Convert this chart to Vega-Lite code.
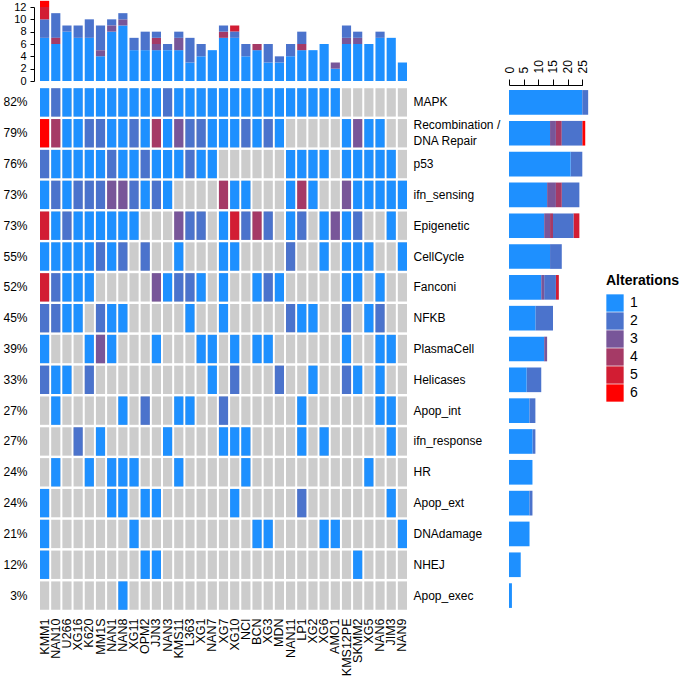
{
"$schema": "https://vega.github.io/schema/vega-lite/v6.json",
"padding": {"left": 2, "top": 0, "right": 0, "bottom": 0},
"datasets": {
"ord": [{"v":1,"rank":1},{"v":3,"rank":2},{"v":4,"rank":3},{"v":2,"rank":4},{"v":5,"rank":5},{"v":6,"rank":6}],
"cells": [
{"c":"KMM1","p":"MAPK","v":1},{"c":"NAN10","p":"MAPK","v":2},{"c":"U266","p":"MAPK","v":1},{"c":"XG16","p":"MAPK","v":1},{"c":"K620","p":"MAPK","v":1},{"c":"MM1S","p":"MAPK","v":1},{"c":"NAN1","p":"MAPK","v":1},{"c":"NAN8","p":"MAPK","v":1},{"c":"XG11","p":"MAPK","v":1},{"c":"OPM2","p":"MAPK","v":1},{"c":"JJN3","p":"MAPK","v":1},{"c":"NAN3","p":"MAPK","v":2},{"c":"KMS11","p":"MAPK","v":1},{"c":"L363","p":"MAPK","v":1},{"c":"XG1","p":"MAPK","v":1},{"c":"NAN7","p":"MAPK","v":1},{"c":"XG7","p":"MAPK","v":1},{"c":"XG10","p":"MAPK","v":1},{"c":"NCI","p":"MAPK","v":1},{"c":"BCN","p":"MAPK","v":1},{"c":"XG3","p":"MAPK","v":1},{"c":"MDN","p":"MAPK","v":1},{"c":"NAN11","p":"MAPK","v":1},{"c":"LP1","p":"MAPK","v":1},{"c":"XG2","p":"MAPK","v":1},{"c":"XG6","p":"MAPK","v":1},{"c":"AMO1","p":"MAPK","v":1},{"c":"KMS12PE","p":"MAPK","v":0},{"c":"SKMM2","p":"MAPK","v":0},{"c":"XG5","p":"MAPK","v":0},{"c":"NAN6","p":"MAPK","v":0},{"c":"JIM3","p":"MAPK","v":0},{"c":"NAN9","p":"MAPK","v":0},
{"c":"KMM1","p":"Recombination / DNA Repair","v":6},{"c":"NAN10","p":"Recombination / DNA Repair","v":4},{"c":"U266","p":"Recombination / DNA Repair","v":1},{"c":"XG16","p":"Recombination / DNA Repair","v":1},{"c":"K620","p":"Recombination / DNA Repair","v":2},{"c":"MM1S","p":"Recombination / DNA Repair","v":2},{"c":"NAN1","p":"Recombination / DNA Repair","v":1},{"c":"NAN8","p":"Recombination / DNA Repair","v":1},{"c":"XG11","p":"Recombination / DNA Repair","v":2},{"c":"OPM2","p":"Recombination / DNA Repair","v":1},{"c":"JJN3","p":"Recombination / DNA Repair","v":4},{"c":"NAN3","p":"Recombination / DNA Repair","v":1},{"c":"KMS11","p":"Recombination / DNA Repair","v":3},{"c":"L363","p":"Recombination / DNA Repair","v":2},{"c":"XG1","p":"Recombination / DNA Repair","v":2},{"c":"NAN7","p":"Recombination / DNA Repair","v":1},{"c":"XG7","p":"Recombination / DNA Repair","v":1},{"c":"XG10","p":"Recombination / DNA Repair","v":1},{"c":"NCI","p":"Recombination / DNA Repair","v":2},{"c":"BCN","p":"Recombination / DNA Repair","v":1},{"c":"XG3","p":"Recombination / DNA Repair","v":2},{"c":"MDN","p":"Recombination / DNA Repair","v":1},{"c":"NAN11","p":"Recombination / DNA Repair","v":0},{"c":"LP1","p":"Recombination / DNA Repair","v":0},{"c":"XG2","p":"Recombination / DNA Repair","v":0},{"c":"XG6","p":"Recombination / DNA Repair","v":0},{"c":"AMO1","p":"Recombination / DNA Repair","v":0},{"c":"KMS12PE","p":"Recombination / DNA Repair","v":1},{"c":"SKMM2","p":"Recombination / DNA Repair","v":3},{"c":"XG5","p":"Recombination / DNA Repair","v":1},{"c":"NAN6","p":"Recombination / DNA Repair","v":1},{"c":"JIM3","p":"Recombination / DNA Repair","v":0},{"c":"NAN9","p":"Recombination / DNA Repair","v":0},
{"c":"KMM1","p":"p53","v":2},{"c":"NAN10","p":"p53","v":1},{"c":"U266","p":"p53","v":1},{"c":"XG16","p":"p53","v":1},{"c":"K620","p":"p53","v":1},{"c":"MM1S","p":"p53","v":1},{"c":"NAN1","p":"p53","v":2},{"c":"NAN8","p":"p53","v":1},{"c":"XG11","p":"p53","v":1},{"c":"OPM2","p":"p53","v":2},{"c":"JJN3","p":"p53","v":1},{"c":"NAN3","p":"p53","v":1},{"c":"KMS11","p":"p53","v":1},{"c":"L363","p":"p53","v":2},{"c":"XG1","p":"p53","v":1},{"c":"NAN7","p":"p53","v":1},{"c":"XG7","p":"p53","v":0},{"c":"XG10","p":"p53","v":0},{"c":"NCI","p":"p53","v":0},{"c":"BCN","p":"p53","v":0},{"c":"XG3","p":"p53","v":0},{"c":"MDN","p":"p53","v":0},{"c":"NAN11","p":"p53","v":1},{"c":"LP1","p":"p53","v":1},{"c":"XG2","p":"p53","v":1},{"c":"XG6","p":"p53","v":1},{"c":"AMO1","p":"p53","v":0},{"c":"KMS12PE","p":"p53","v":1},{"c":"SKMM2","p":"p53","v":1},{"c":"XG5","p":"p53","v":1},{"c":"NAN6","p":"p53","v":1},{"c":"JIM3","p":"p53","v":1},{"c":"NAN9","p":"p53","v":0},
{"c":"KMM1","p":"ifn_sensing","v":1},{"c":"NAN10","p":"ifn_sensing","v":2},{"c":"U266","p":"ifn_sensing","v":1},{"c":"XG16","p":"ifn_sensing","v":2},{"c":"K620","p":"ifn_sensing","v":2},{"c":"MM1S","p":"ifn_sensing","v":2},{"c":"NAN1","p":"ifn_sensing","v":3},{"c":"NAN8","p":"ifn_sensing","v":3},{"c":"XG11","p":"ifn_sensing","v":2},{"c":"OPM2","p":"ifn_sensing","v":1},{"c":"JJN3","p":"ifn_sensing","v":2},{"c":"NAN3","p":"ifn_sensing","v":1},{"c":"KMS11","p":"ifn_sensing","v":0},{"c":"L363","p":"ifn_sensing","v":0},{"c":"XG1","p":"ifn_sensing","v":0},{"c":"NAN7","p":"ifn_sensing","v":0},{"c":"XG7","p":"ifn_sensing","v":4},{"c":"XG10","p":"ifn_sensing","v":1},{"c":"NCI","p":"ifn_sensing","v":1},{"c":"BCN","p":"ifn_sensing","v":0},{"c":"XG3","p":"ifn_sensing","v":0},{"c":"MDN","p":"ifn_sensing","v":0},{"c":"NAN11","p":"ifn_sensing","v":1},{"c":"LP1","p":"ifn_sensing","v":4},{"c":"XG2","p":"ifn_sensing","v":1},{"c":"XG6","p":"ifn_sensing","v":0},{"c":"AMO1","p":"ifn_sensing","v":0},{"c":"KMS12PE","p":"ifn_sensing","v":3},{"c":"SKMM2","p":"ifn_sensing","v":1},{"c":"XG5","p":"ifn_sensing","v":1},{"c":"NAN6","p":"ifn_sensing","v":1},{"c":"JIM3","p":"ifn_sensing","v":1},{"c":"NAN9","p":"ifn_sensing","v":1},
{"c":"KMM1","p":"Epigenetic","v":5},{"c":"NAN10","p":"Epigenetic","v":1},{"c":"U266","p":"Epigenetic","v":2},{"c":"XG16","p":"Epigenetic","v":1},{"c":"K620","p":"Epigenetic","v":1},{"c":"MM1S","p":"Epigenetic","v":1},{"c":"NAN1","p":"Epigenetic","v":1},{"c":"NAN8","p":"Epigenetic","v":1},{"c":"XG11","p":"Epigenetic","v":1},{"c":"OPM2","p":"Epigenetic","v":0},{"c":"JJN3","p":"Epigenetic","v":0},{"c":"NAN3","p":"Epigenetic","v":0},{"c":"KMS11","p":"Epigenetic","v":3},{"c":"L363","p":"Epigenetic","v":2},{"c":"XG1","p":"Epigenetic","v":2},{"c":"NAN7","p":"Epigenetic","v":0},{"c":"XG7","p":"Epigenetic","v":1},{"c":"XG10","p":"Epigenetic","v":5},{"c":"NCI","p":"Epigenetic","v":2},{"c":"BCN","p":"Epigenetic","v":4},{"c":"XG3","p":"Epigenetic","v":2},{"c":"MDN","p":"Epigenetic","v":0},{"c":"NAN11","p":"Epigenetic","v":1},{"c":"LP1","p":"Epigenetic","v":2},{"c":"XG2","p":"Epigenetic","v":0},{"c":"XG6","p":"Epigenetic","v":1},{"c":"AMO1","p":"Epigenetic","v":3},{"c":"KMS12PE","p":"Epigenetic","v":1},{"c":"SKMM2","p":"Epigenetic","v":2},{"c":"XG5","p":"Epigenetic","v":0},{"c":"NAN6","p":"Epigenetic","v":0},{"c":"JIM3","p":"Epigenetic","v":1},{"c":"NAN9","p":"Epigenetic","v":0},
{"c":"KMM1","p":"CellCycle","v":1},{"c":"NAN10","p":"CellCycle","v":1},{"c":"U266","p":"CellCycle","v":1},{"c":"XG16","p":"CellCycle","v":1},{"c":"K620","p":"CellCycle","v":1},{"c":"MM1S","p":"CellCycle","v":2},{"c":"NAN1","p":"CellCycle","v":1},{"c":"NAN8","p":"CellCycle","v":2},{"c":"XG11","p":"CellCycle","v":0},{"c":"OPM2","p":"CellCycle","v":2},{"c":"JJN3","p":"CellCycle","v":0},{"c":"NAN3","p":"CellCycle","v":0},{"c":"KMS11","p":"CellCycle","v":1},{"c":"L363","p":"CellCycle","v":0},{"c":"XG1","p":"CellCycle","v":0},{"c":"NAN7","p":"CellCycle","v":0},{"c":"XG7","p":"CellCycle","v":1},{"c":"XG10","p":"CellCycle","v":1},{"c":"NCI","p":"CellCycle","v":0},{"c":"BCN","p":"CellCycle","v":0},{"c":"XG3","p":"CellCycle","v":0},{"c":"MDN","p":"CellCycle","v":0},{"c":"NAN11","p":"CellCycle","v":2},{"c":"LP1","p":"CellCycle","v":0},{"c":"XG2","p":"CellCycle","v":0},{"c":"XG6","p":"CellCycle","v":1},{"c":"AMO1","p":"CellCycle","v":0},{"c":"KMS12PE","p":"CellCycle","v":1},{"c":"SKMM2","p":"CellCycle","v":1},{"c":"XG5","p":"CellCycle","v":1},{"c":"NAN6","p":"CellCycle","v":0},{"c":"JIM3","p":"CellCycle","v":0},{"c":"NAN9","p":"CellCycle","v":1},
{"c":"KMM1","p":"Fanconi","v":5},{"c":"NAN10","p":"Fanconi","v":2},{"c":"U266","p":"Fanconi","v":1},{"c":"XG16","p":"Fanconi","v":1},{"c":"K620","p":"Fanconi","v":1},{"c":"MM1S","p":"Fanconi","v":0},{"c":"NAN1","p":"Fanconi","v":0},{"c":"NAN8","p":"Fanconi","v":0},{"c":"XG11","p":"Fanconi","v":0},{"c":"OPM2","p":"Fanconi","v":0},{"c":"JJN3","p":"Fanconi","v":3},{"c":"NAN3","p":"Fanconi","v":1},{"c":"KMS11","p":"Fanconi","v":2},{"c":"L363","p":"Fanconi","v":2},{"c":"XG1","p":"Fanconi","v":1},{"c":"NAN7","p":"Fanconi","v":0},{"c":"XG7","p":"Fanconi","v":1},{"c":"XG10","p":"Fanconi","v":0},{"c":"NCI","p":"Fanconi","v":0},{"c":"BCN","p":"Fanconi","v":1},{"c":"XG3","p":"Fanconi","v":2},{"c":"MDN","p":"Fanconi","v":1},{"c":"NAN11","p":"Fanconi","v":0},{"c":"LP1","p":"Fanconi","v":0},{"c":"XG2","p":"Fanconi","v":0},{"c":"XG6","p":"Fanconi","v":0},{"c":"AMO1","p":"Fanconi","v":0},{"c":"KMS12PE","p":"Fanconi","v":1},{"c":"SKMM2","p":"Fanconi","v":1},{"c":"XG5","p":"Fanconi","v":0},{"c":"NAN6","p":"Fanconi","v":1},{"c":"JIM3","p":"Fanconi","v":0},{"c":"NAN9","p":"Fanconi","v":0},
{"c":"KMM1","p":"NFKB","v":2},{"c":"NAN10","p":"NFKB","v":2},{"c":"U266","p":"NFKB","v":1},{"c":"XG16","p":"NFKB","v":1},{"c":"K620","p":"NFKB","v":0},{"c":"MM1S","p":"NFKB","v":2},{"c":"NAN1","p":"NFKB","v":1},{"c":"NAN8","p":"NFKB","v":1},{"c":"XG11","p":"NFKB","v":0},{"c":"OPM2","p":"NFKB","v":0},{"c":"JJN3","p":"NFKB","v":0},{"c":"NAN3","p":"NFKB","v":0},{"c":"KMS11","p":"NFKB","v":0},{"c":"L363","p":"NFKB","v":1},{"c":"XG1","p":"NFKB","v":0},{"c":"NAN7","p":"NFKB","v":0},{"c":"XG7","p":"NFKB","v":1},{"c":"XG10","p":"NFKB","v":0},{"c":"NCI","p":"NFKB","v":0},{"c":"BCN","p":"NFKB","v":0},{"c":"XG3","p":"NFKB","v":0},{"c":"MDN","p":"NFKB","v":0},{"c":"NAN11","p":"NFKB","v":2},{"c":"LP1","p":"NFKB","v":1},{"c":"XG2","p":"NFKB","v":1},{"c":"XG6","p":"NFKB","v":0},{"c":"AMO1","p":"NFKB","v":0},{"c":"KMS12PE","p":"NFKB","v":2},{"c":"SKMM2","p":"NFKB","v":0},{"c":"XG5","p":"NFKB","v":1},{"c":"NAN6","p":"NFKB","v":2},{"c":"JIM3","p":"NFKB","v":0},{"c":"NAN9","p":"NFKB","v":0},
{"c":"KMM1","p":"PlasmaCell","v":1},{"c":"NAN10","p":"PlasmaCell","v":0},{"c":"U266","p":"PlasmaCell","v":0},{"c":"XG16","p":"PlasmaCell","v":0},{"c":"K620","p":"PlasmaCell","v":1},{"c":"MM1S","p":"PlasmaCell","v":3},{"c":"NAN1","p":"PlasmaCell","v":1},{"c":"NAN8","p":"PlasmaCell","v":0},{"c":"XG11","p":"PlasmaCell","v":0},{"c":"OPM2","p":"PlasmaCell","v":0},{"c":"JJN3","p":"PlasmaCell","v":1},{"c":"NAN3","p":"PlasmaCell","v":0},{"c":"KMS11","p":"PlasmaCell","v":0},{"c":"L363","p":"PlasmaCell","v":0},{"c":"XG1","p":"PlasmaCell","v":1},{"c":"NAN7","p":"PlasmaCell","v":1},{"c":"XG7","p":"PlasmaCell","v":0},{"c":"XG10","p":"PlasmaCell","v":1},{"c":"NCI","p":"PlasmaCell","v":0},{"c":"BCN","p":"PlasmaCell","v":1},{"c":"XG3","p":"PlasmaCell","v":1},{"c":"MDN","p":"PlasmaCell","v":0},{"c":"NAN11","p":"PlasmaCell","v":0},{"c":"LP1","p":"PlasmaCell","v":0},{"c":"XG2","p":"PlasmaCell","v":0},{"c":"XG6","p":"PlasmaCell","v":0},{"c":"AMO1","p":"PlasmaCell","v":0},{"c":"KMS12PE","p":"PlasmaCell","v":1},{"c":"SKMM2","p":"PlasmaCell","v":0},{"c":"XG5","p":"PlasmaCell","v":0},{"c":"NAN6","p":"PlasmaCell","v":1},{"c":"JIM3","p":"PlasmaCell","v":1},{"c":"NAN9","p":"PlasmaCell","v":0},
{"c":"KMM1","p":"Helicases","v":2},{"c":"NAN10","p":"Helicases","v":1},{"c":"U266","p":"Helicases","v":1},{"c":"XG16","p":"Helicases","v":0},{"c":"K620","p":"Helicases","v":2},{"c":"MM1S","p":"Helicases","v":0},{"c":"NAN1","p":"Helicases","v":0},{"c":"NAN8","p":"Helicases","v":0},{"c":"XG11","p":"Helicases","v":0},{"c":"OPM2","p":"Helicases","v":0},{"c":"JJN3","p":"Helicases","v":0},{"c":"NAN3","p":"Helicases","v":0},{"c":"KMS11","p":"Helicases","v":0},{"c":"L363","p":"Helicases","v":0},{"c":"XG1","p":"Helicases","v":0},{"c":"NAN7","p":"Helicases","v":1},{"c":"XG7","p":"Helicases","v":0},{"c":"XG10","p":"Helicases","v":2},{"c":"NCI","p":"Helicases","v":0},{"c":"BCN","p":"Helicases","v":0},{"c":"XG3","p":"Helicases","v":0},{"c":"MDN","p":"Helicases","v":2},{"c":"NAN11","p":"Helicases","v":0},{"c":"LP1","p":"Helicases","v":0},{"c":"XG2","p":"Helicases","v":1},{"c":"XG6","p":"Helicases","v":0},{"c":"AMO1","p":"Helicases","v":0},{"c":"KMS12PE","p":"Helicases","v":2},{"c":"SKMM2","p":"Helicases","v":1},{"c":"XG5","p":"Helicases","v":0},{"c":"NAN6","p":"Helicases","v":1},{"c":"JIM3","p":"Helicases","v":0},{"c":"NAN9","p":"Helicases","v":0},
{"c":"KMM1","p":"Apop_int","v":0},{"c":"NAN10","p":"Apop_int","v":1},{"c":"U266","p":"Apop_int","v":0},{"c":"XG16","p":"Apop_int","v":0},{"c":"K620","p":"Apop_int","v":0},{"c":"MM1S","p":"Apop_int","v":0},{"c":"NAN1","p":"Apop_int","v":0},{"c":"NAN8","p":"Apop_int","v":1},{"c":"XG11","p":"Apop_int","v":0},{"c":"OPM2","p":"Apop_int","v":2},{"c":"JJN3","p":"Apop_int","v":0},{"c":"NAN3","p":"Apop_int","v":0},{"c":"KMS11","p":"Apop_int","v":1},{"c":"L363","p":"Apop_int","v":1},{"c":"XG1","p":"Apop_int","v":0},{"c":"NAN7","p":"Apop_int","v":0},{"c":"XG7","p":"Apop_int","v":2},{"c":"XG10","p":"Apop_int","v":0},{"c":"NCI","p":"Apop_int","v":0},{"c":"BCN","p":"Apop_int","v":0},{"c":"XG3","p":"Apop_int","v":0},{"c":"MDN","p":"Apop_int","v":0},{"c":"NAN11","p":"Apop_int","v":0},{"c":"LP1","p":"Apop_int","v":1},{"c":"XG2","p":"Apop_int","v":0},{"c":"XG6","p":"Apop_int","v":0},{"c":"AMO1","p":"Apop_int","v":0},{"c":"KMS12PE","p":"Apop_int","v":0},{"c":"SKMM2","p":"Apop_int","v":0},{"c":"XG5","p":"Apop_int","v":0},{"c":"NAN6","p":"Apop_int","v":1},{"c":"JIM3","p":"Apop_int","v":1},{"c":"NAN9","p":"Apop_int","v":0},
{"c":"KMM1","p":"ifn_response","v":0},{"c":"NAN10","p":"ifn_response","v":0},{"c":"U266","p":"ifn_response","v":0},{"c":"XG16","p":"ifn_response","v":2},{"c":"K620","p":"ifn_response","v":0},{"c":"MM1S","p":"ifn_response","v":1},{"c":"NAN1","p":"ifn_response","v":0},{"c":"NAN8","p":"ifn_response","v":0},{"c":"XG11","p":"ifn_response","v":0},{"c":"OPM2","p":"ifn_response","v":0},{"c":"JJN3","p":"ifn_response","v":0},{"c":"NAN3","p":"ifn_response","v":1},{"c":"KMS11","p":"ifn_response","v":0},{"c":"L363","p":"ifn_response","v":0},{"c":"XG1","p":"ifn_response","v":0},{"c":"NAN7","p":"ifn_response","v":0},{"c":"XG7","p":"ifn_response","v":1},{"c":"XG10","p":"ifn_response","v":1},{"c":"NCI","p":"ifn_response","v":1},{"c":"BCN","p":"ifn_response","v":0},{"c":"XG3","p":"ifn_response","v":0},{"c":"MDN","p":"ifn_response","v":0},{"c":"NAN11","p":"ifn_response","v":0},{"c":"LP1","p":"ifn_response","v":1},{"c":"XG2","p":"ifn_response","v":0},{"c":"XG6","p":"ifn_response","v":1},{"c":"AMO1","p":"ifn_response","v":0},{"c":"KMS12PE","p":"ifn_response","v":0},{"c":"SKMM2","p":"ifn_response","v":0},{"c":"XG5","p":"ifn_response","v":0},{"c":"NAN6","p":"ifn_response","v":0},{"c":"JIM3","p":"ifn_response","v":1},{"c":"NAN9","p":"ifn_response","v":0},
{"c":"KMM1","p":"HR","v":0},{"c":"NAN10","p":"HR","v":1},{"c":"U266","p":"HR","v":0},{"c":"XG16","p":"HR","v":0},{"c":"K620","p":"HR","v":1},{"c":"MM1S","p":"HR","v":0},{"c":"NAN1","p":"HR","v":1},{"c":"NAN8","p":"HR","v":1},{"c":"XG11","p":"HR","v":1},{"c":"OPM2","p":"HR","v":0},{"c":"JJN3","p":"HR","v":0},{"c":"NAN3","p":"HR","v":0},{"c":"KMS11","p":"HR","v":1},{"c":"L363","p":"HR","v":0},{"c":"XG1","p":"HR","v":0},{"c":"NAN7","p":"HR","v":0},{"c":"XG7","p":"HR","v":0},{"c":"XG10","p":"HR","v":0},{"c":"NCI","p":"HR","v":1},{"c":"BCN","p":"HR","v":0},{"c":"XG3","p":"HR","v":0},{"c":"MDN","p":"HR","v":0},{"c":"NAN11","p":"HR","v":0},{"c":"LP1","p":"HR","v":0},{"c":"XG2","p":"HR","v":0},{"c":"XG6","p":"HR","v":0},{"c":"AMO1","p":"HR","v":0},{"c":"KMS12PE","p":"HR","v":0},{"c":"SKMM2","p":"HR","v":0},{"c":"XG5","p":"HR","v":1},{"c":"NAN6","p":"HR","v":0},{"c":"JIM3","p":"HR","v":0},{"c":"NAN9","p":"HR","v":0},
{"c":"KMM1","p":"Apop_ext","v":1},{"c":"NAN10","p":"Apop_ext","v":0},{"c":"U266","p":"Apop_ext","v":0},{"c":"XG16","p":"Apop_ext","v":0},{"c":"K620","p":"Apop_ext","v":0},{"c":"MM1S","p":"Apop_ext","v":0},{"c":"NAN1","p":"Apop_ext","v":1},{"c":"NAN8","p":"Apop_ext","v":1},{"c":"XG11","p":"Apop_ext","v":0},{"c":"OPM2","p":"Apop_ext","v":1},{"c":"JJN3","p":"Apop_ext","v":1},{"c":"NAN3","p":"Apop_ext","v":0},{"c":"KMS11","p":"Apop_ext","v":0},{"c":"L363","p":"Apop_ext","v":0},{"c":"XG1","p":"Apop_ext","v":0},{"c":"NAN7","p":"Apop_ext","v":0},{"c":"XG7","p":"Apop_ext","v":0},{"c":"XG10","p":"Apop_ext","v":1},{"c":"NCI","p":"Apop_ext","v":0},{"c":"BCN","p":"Apop_ext","v":0},{"c":"XG3","p":"Apop_ext","v":0},{"c":"MDN","p":"Apop_ext","v":0},{"c":"NAN11","p":"Apop_ext","v":0},{"c":"LP1","p":"Apop_ext","v":2},{"c":"XG2","p":"Apop_ext","v":0},{"c":"XG6","p":"Apop_ext","v":0},{"c":"AMO1","p":"Apop_ext","v":0},{"c":"KMS12PE","p":"Apop_ext","v":0},{"c":"SKMM2","p":"Apop_ext","v":0},{"c":"XG5","p":"Apop_ext","v":0},{"c":"NAN6","p":"Apop_ext","v":0},{"c":"JIM3","p":"Apop_ext","v":1},{"c":"NAN9","p":"Apop_ext","v":0},
{"c":"KMM1","p":"DNAdamage","v":1},{"c":"NAN10","p":"DNAdamage","v":0},{"c":"U266","p":"DNAdamage","v":0},{"c":"XG16","p":"DNAdamage","v":0},{"c":"K620","p":"DNAdamage","v":0},{"c":"MM1S","p":"DNAdamage","v":0},{"c":"NAN1","p":"DNAdamage","v":0},{"c":"NAN8","p":"DNAdamage","v":0},{"c":"XG11","p":"DNAdamage","v":1},{"c":"OPM2","p":"DNAdamage","v":0},{"c":"JJN3","p":"DNAdamage","v":0},{"c":"NAN3","p":"DNAdamage","v":0},{"c":"KMS11","p":"DNAdamage","v":0},{"c":"L363","p":"DNAdamage","v":0},{"c":"XG1","p":"DNAdamage","v":0},{"c":"NAN7","p":"DNAdamage","v":0},{"c":"XG7","p":"DNAdamage","v":0},{"c":"XG10","p":"DNAdamage","v":0},{"c":"NCI","p":"DNAdamage","v":0},{"c":"BCN","p":"DNAdamage","v":1},{"c":"XG3","p":"DNAdamage","v":1},{"c":"MDN","p":"DNAdamage","v":0},{"c":"NAN11","p":"DNAdamage","v":0},{"c":"LP1","p":"DNAdamage","v":0},{"c":"XG2","p":"DNAdamage","v":0},{"c":"XG6","p":"DNAdamage","v":1},{"c":"AMO1","p":"DNAdamage","v":1},{"c":"KMS12PE","p":"DNAdamage","v":0},{"c":"SKMM2","p":"DNAdamage","v":0},{"c":"XG5","p":"DNAdamage","v":0},{"c":"NAN6","p":"DNAdamage","v":0},{"c":"JIM3","p":"DNAdamage","v":0},{"c":"NAN9","p":"DNAdamage","v":1},
{"c":"KMM1","p":"NHEJ","v":1},{"c":"NAN10","p":"NHEJ","v":0},{"c":"U266","p":"NHEJ","v":0},{"c":"XG16","p":"NHEJ","v":0},{"c":"K620","p":"NHEJ","v":0},{"c":"MM1S","p":"NHEJ","v":0},{"c":"NAN1","p":"NHEJ","v":0},{"c":"NAN8","p":"NHEJ","v":0},{"c":"XG11","p":"NHEJ","v":0},{"c":"OPM2","p":"NHEJ","v":1},{"c":"JJN3","p":"NHEJ","v":1},{"c":"NAN3","p":"NHEJ","v":0},{"c":"KMS11","p":"NHEJ","v":0},{"c":"L363","p":"NHEJ","v":0},{"c":"XG1","p":"NHEJ","v":0},{"c":"NAN7","p":"NHEJ","v":0},{"c":"XG7","p":"NHEJ","v":0},{"c":"XG10","p":"NHEJ","v":0},{"c":"NCI","p":"NHEJ","v":0},{"c":"BCN","p":"NHEJ","v":0},{"c":"XG3","p":"NHEJ","v":0},{"c":"MDN","p":"NHEJ","v":0},{"c":"NAN11","p":"NHEJ","v":0},{"c":"LP1","p":"NHEJ","v":0},{"c":"XG2","p":"NHEJ","v":0},{"c":"XG6","p":"NHEJ","v":0},{"c":"AMO1","p":"NHEJ","v":0},{"c":"KMS12PE","p":"NHEJ","v":0},{"c":"SKMM2","p":"NHEJ","v":1},{"c":"XG5","p":"NHEJ","v":0},{"c":"NAN6","p":"NHEJ","v":0},{"c":"JIM3","p":"NHEJ","v":0},{"c":"NAN9","p":"NHEJ","v":0},
{"c":"KMM1","p":"Apop_exec","v":0},{"c":"NAN10","p":"Apop_exec","v":0},{"c":"U266","p":"Apop_exec","v":0},{"c":"XG16","p":"Apop_exec","v":0},{"c":"K620","p":"Apop_exec","v":0},{"c":"MM1S","p":"Apop_exec","v":0},{"c":"NAN1","p":"Apop_exec","v":0},{"c":"NAN8","p":"Apop_exec","v":1},{"c":"XG11","p":"Apop_exec","v":0},{"c":"OPM2","p":"Apop_exec","v":0},{"c":"JJN3","p":"Apop_exec","v":0},{"c":"NAN3","p":"Apop_exec","v":0},{"c":"KMS11","p":"Apop_exec","v":0},{"c":"L363","p":"Apop_exec","v":0},{"c":"XG1","p":"Apop_exec","v":0},{"c":"NAN7","p":"Apop_exec","v":0},{"c":"XG7","p":"Apop_exec","v":0},{"c":"XG10","p":"Apop_exec","v":0},{"c":"NCI","p":"Apop_exec","v":0},{"c":"BCN","p":"Apop_exec","v":0},{"c":"XG3","p":"Apop_exec","v":0},{"c":"MDN","p":"Apop_exec","v":0},{"c":"NAN11","p":"Apop_exec","v":0},{"c":"LP1","p":"Apop_exec","v":0},{"c":"XG2","p":"Apop_exec","v":0},{"c":"XG6","p":"Apop_exec","v":0},{"c":"AMO1","p":"Apop_exec","v":0},{"c":"KMS12PE","p":"Apop_exec","v":0},{"c":"SKMM2","p":"Apop_exec","v":0},{"c":"XG5","p":"Apop_exec","v":0},{"c":"NAN6","p":"Apop_exec","v":0},{"c":"JIM3","p":"Apop_exec","v":0},{"c":"NAN9","p":"Apop_exec","v":0}
]
},
"columns": 2,
"bounds": "flush",
"spacing": {"row": 6, "column": 101},
"resolve": {"scale": {"color": "shared"}},
"concat": [
{
"width": 369, "height": 74,
"data": {"name": "cells"},
"transform": [{"filter": {"field": "v", "gt": 0}}, {"lookup": "v", "from": {"data": {"name": "ord"}, "key": "v", "fields": ["rank"]}}],
"mark": {"type": "bar"},
"encoding": {
"x": {"field": "c", "type": "nominal", "sort": ["KMM1","NAN10","U266","XG16","K620","MM1S","NAN1","NAN8","XG11","OPM2","JJN3","NAN3","KMS11","L363","XG1","NAN7","XG7","XG10","NCI","BCN","XG3","MDN","NAN11","LP1","XG2","XG6","AMO1","KMS12PE","SKMM2","XG5","NAN6","JIM3","NAN9"], "scale": {"paddingInner": 0.18, "paddingOuter": 0.09}, "axis": null},
"y": {"aggregate": "count", "type": "quantitative", "scale": {"domain": [0, 12], "nice": false}, "axis": {"values": [0,2,4,6,8,10,12], "title": null, "grid": false, "offset": 5, "tickSize": 4, "labelPadding": 4, "labelFontSize": 11, "labelFlush": false}},
"color": {"field": "v", "type": "ordinal", "title": "Alterations", "scale": {"domain": [1,2,3,4,5,6], "range": ["#1E90FF","#4B73CC","#785699","#A53A66","#D21D33","#FF0000"]}},
"order": {"field": "rank", "type": "quantitative"}
}
},
{
"width": 1, "height": 1,
"data": {"values": []},
"mark": "point",
"encoding": {}
},
{
"width": 369, "height": 524,
"data": {"name": "cells"},
"encoding": {
"x": {"field": "c", "type": "nominal", "sort": ["KMM1","NAN10","U266","XG16","K620","MM1S","NAN1","NAN8","XG11","OPM2","JJN3","NAN3","KMS11","L363","XG1","NAN7","XG7","XG10","NCI","BCN","XG3","MDN","NAN11","LP1","XG2","XG6","AMO1","KMS12PE","SKMM2","XG5","NAN6","JIM3","NAN9"], "scale": {"paddingInner": 0.18, "paddingOuter": 0.09}, "axis": {"orient": "bottom", "title": null, "labelAngle": -90, "ticks": false, "domain": false, "labelPadding": 7, "labelFontSize": 12.5, "labelOverlap": false}}
},
"layer": [
{
"mark": {"type": "rect", "color": "#cccccc"},
"encoding": {
"y": {"field": "p", "type": "nominal", "sort": ["MAPK","Recombination / DNA Repair","p53","ifn_sensing","Epigenetic","CellCycle","Fanconi","NFKB","PlasmaCell","Helicases","Apop_int","ifn_response","HR","Apop_ext","DNAdamage","NHEJ","Apop_exec"], "scale": {"paddingInner": 0.08, "paddingOuter": 0.04}, "axis": {"orient": "left", "title": null, "ticks": false, "domain": false, "labelPadding": 12, "labelFontSize": 12, "labelExpr": "['82%','79%','76%','73%','73%','55%','52%','45%','39%','33%','27%','27%','24%','24%','21%','12%','3%'][indexof(['MAPK','Recombination / DNA Repair','p53','ifn_sensing','Epigenetic','CellCycle','Fanconi','NFKB','PlasmaCell','Helicases','Apop_int','ifn_response','HR','Apop_ext','DNAdamage','NHEJ','Apop_exec'], datum.value)]"}}
}
},
{
"transform": [{"filter": {"field": "v", "gt": 0}}],
"mark": {"type": "rect"},
"encoding": {
"y": {"field": "p", "type": "nominal", "sort": ["MAPK","Recombination / DNA Repair","p53","ifn_sensing","Epigenetic","CellCycle","Fanconi","NFKB","PlasmaCell","Helicases","Apop_int","ifn_response","HR","Apop_ext","DNAdamage","NHEJ","Apop_exec"], "scale": {"paddingInner": 0.08, "paddingOuter": 0.04}, "axis": {"orient": "right", "title": null, "ticks": false, "domain": false, "labelPadding": 5, "labelFontSize": 12, "labelLimit": 300, "labelLineHeight": 16, "labelOffset": {"condition": {"test": "datum.value == 'Recombination / DNA Repair'", "value": -8}, "value": 0}, "labelExpr": "datum.value == 'Recombination / DNA Repair' ? ['Recombination /', 'DNA Repair'] : datum.value"}},
"color": {"field": "v", "type": "ordinal", "title": "Alterations", "scale": {"domain": [1,2,3,4,5,6], "range": ["#1E90FF","#4B73CC","#785699","#A53A66","#D21D33","#FF0000"]}}
}
}
],
"resolve": {"axis": {"y": "independent"}}
},
{
"width": 73.3, "height": 524,
"data": {"name": "cells"},
"transform": [{"filter": {"field": "v", "gt": 0}}, {"lookup": "v", "from": {"data": {"name": "ord"}, "key": "v", "fields": ["rank"]}}],
"mark": {"type": "bar"},
"encoding": {
"y": {"field": "p", "type": "nominal", "sort": ["MAPK","Recombination / DNA Repair","p53","ifn_sensing","Epigenetic","CellCycle","Fanconi","NFKB","PlasmaCell","Helicases","Apop_int","ifn_response","HR","Apop_ext","DNAdamage","NHEJ","Apop_exec"], "scale": {"paddingInner": 0.2, "paddingOuter": 0.1}, "axis": null},
"x": {"aggregate": "count", "type": "quantitative", "scale": {"domain": [0, 25], "nice": false}, "axis": {"orient": "top", "values": [0,5,10,15,20,25], "title": null, "grid": false, "labelAngle": -90, "offset": 2, "tickSize": 6, "labelPadding": 6, "labelFontSize": 12, "labelFlush": false}},
"color": {"field": "v", "type": "ordinal", "title": "Alterations", "scale": {"domain": [1,2,3,4,5,6], "range": ["#1E90FF","#4B73CC","#785699","#A53A66","#D21D33","#FF0000"]}},
"order": {"field": "rank", "type": "quantitative"}
}
}
],
"config": {
"font": "Liberation Sans",
"view": {"stroke": null},
"axis": {"labelFont": "Liberation Sans", "labelColor": "#000000", "domainColor": "#000000", "tickColor": "#000000", "grid": false},
"legend": {"orient": "none", "legendX": 567, "legendY": 267, "titleFont": "Liberation Sans", "titleFontSize": 14, "titleFontWeight": "bold", "titleColor": "#000000", "labelFont": "Liberation Sans", "labelFontSize": 14, "labelColor": "#000000", "symbolType": "square", "symbolSize": 300, "symbolStrokeWidth": 0, "symbolOpacity": 1, "rowPadding": 0, "labelOffset": 6, "titlePadding": 6}
}
}
